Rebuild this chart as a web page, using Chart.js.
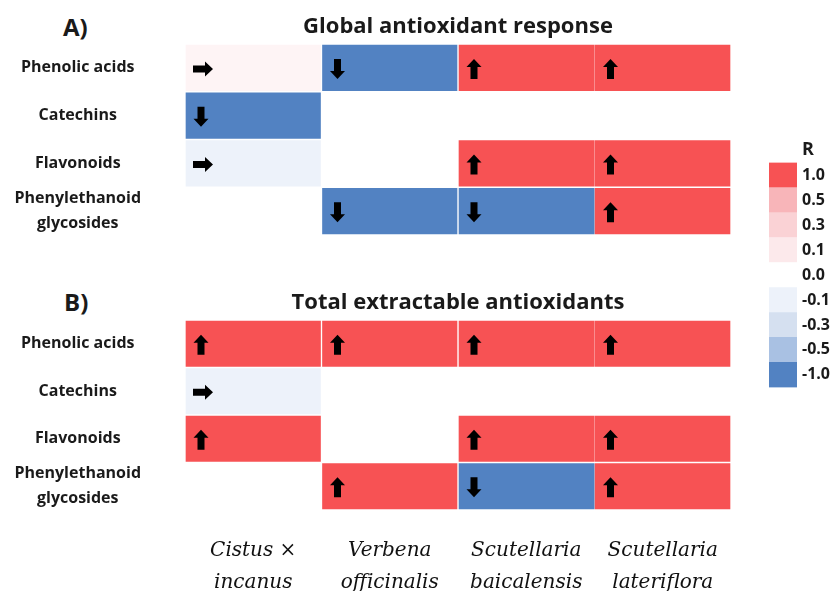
<!DOCTYPE html>
<html>
<head>
<meta charset="utf-8">
<script src="https://cdn.jsdelivr.net/npm/chart.js@4/dist/chart.umd.min.js"></script>
<style>
  html, body { margin: 0; padding: 0; background: #fff; overflow: hidden; }
  body { width: 837px; height: 591px; position: relative; }
  canvas { position: absolute; }
  .tag { position: absolute; font: bold 24px "Open Sans"; color: #1a1a1a; line-height: 32px; }
</style>
</head>
<body>
<div class="tag" style="left:63px; top:11px">A)</div>
<div class="tag" style="left:64px; top:286px">B)</div>
<canvas id="chartA" width="837" height="250" style="left:0; top:0"></canvas>
<canvas id="chartB" width="837" height="315" style="left:0; top:276px"></canvas>
<canvas id="legend" width="97" height="272" style="left:750px; top:130px"></canvas>
<script>
const rows = ['Phenolic acids', 'Catechins', 'Flavonoids', ['Phenylethanoid', 'glycosides']];
const species = [['Cistus ×', 'incanus'], ['Verbena', 'officinalis'], ['Scutellaria', 'baicalensis'], ['Scutellaria', 'lateriflora']];

// R values, one per row (null = not present)
const globalCistus = [0.05, -1, -0.1, null];
const globalVerbena = [-1, null, null, -1];
const globalBaicalensis = [1, null, 1, -1];
const globalLateriflora = [1, null, 1, 1];

const totalCistus = [1, -0.1, 1, null];
const totalVerbena = [1, null, null, 1];
const totalBaicalensis = [1, null, 1, -1];
const totalLateriflora = [1, null, 1, 1];

const scaleValues = [1, 0.5, 0.3, 0.1, 0, -0.1, -0.3, -0.5, -1];
const scaleColors = ['#F75254', '#F8B5B9', '#FAD2D5', '#FCE9EB', '#FFFFFF', '#EDF2FA', '#D5E0F0', '#A9C1E3', '#5282C2'];

const textColor = '#1a1a1a';

function hexToRgb(h) {
  const n = parseInt(h.slice(1), 16);
  return [(n >> 16) & 255, (n >> 8) & 255, n & 255];
}

function colorFor(r) {
  if (r === null) return 'rgba(0,0,0,0)';
  for (let i = 0; i < scaleValues.length - 1; i++) {
    const a = scaleValues[i], b = scaleValues[i + 1];
    if (r <= a && r >= b) {
      const t = (a - r) / (a - b);
      const c1 = hexToRgb(scaleColors[i]), c2 = hexToRgb(scaleColors[i + 1]);
      const c = c1.map((v, k) => Math.round(v + (c2[k] - v) * t));
      return `rgb(${c[0]},${c[1]},${c[2]})`;
    }
  }
  return r > 0 ? scaleColors[0] : scaleColors[scaleColors.length - 1];
}

function drawArrow(ctx, cx, cy, dir) {
  ctx.save();
  ctx.translate(cx, cy);
  ctx.rotate(dir === 'up' ? 0 : dir === 'down' ? Math.PI : Math.PI / 2);
  ctx.beginPath();
  ctx.moveTo(0, -10);
  ctx.lineTo(7.5, -2);
  ctx.lineTo(3.5, -2);
  ctx.lineTo(3.5, 10);
  ctx.lineTo(-3.5, 10);
  ctx.lineTo(-3.5, -2);
  ctx.lineTo(-7.5, -2);
  ctx.closePath();
  ctx.fillStyle = '#000';
  ctx.fill();
  ctx.restore();
}

const arrowPlugin = {
  id: 'arrows',
  afterDatasetsDraw(chart) {
    const ctx = chart.ctx;
    chart.data.datasets.forEach((ds, j) => {
      const meta = chart.getDatasetMeta(j);
      ds.rVals.forEach((r, i) => {
        if (r === null) return;
        const bar = meta.data[i];
        const left = Math.min(bar.base, bar.x);
        const dir = r > 0.3 ? 'up' : r < -0.3 ? 'down' : 'right';
        drawArrow(ctx, left + (dir === 'right' ? 18 : 16), bar.y + 1, dir);
      });
    });
  }
};

function heatmap(id, title, series, showSpecies) {
  const datasets = series.map((vals, j) => ({
    label: species[j].join(' '),
    data: vals.map(v => v === null ? null : [j, j + 1]),
    rVals: vals,
    backgroundColor: vals.map(colorFor),
    borderColor: '#fff',
    // the two Scutellaria columns touch without a separator line
    borderWidth: { top: 1, bottom: 1, left: j === 3 ? 0 : 1, right: j === 2 ? 0 : 1 },
    borderSkipped: false,
    barPercentage: 1,
    categoryPercentage: 1,
    grouped: false
  }));

  const scales = {
    x: {
      type: 'linear', position: 'top', min: 0, max: 4,
      grid: { display: false, drawTicks: false },
      border: { display: false },
      ticks: { display: false },
      title: {
        display: true, text: title, color: textColor,
        font: { family: 'Open Sans', size: 22, weight: 'bold' },
        padding: { top: 14, bottom: 0 }
      },
      afterFit: s => { s.height = 44; }
    },
    y: {
      type: 'category', offset: true,
      grid: { display: true, drawOnChartArea: false, drawTicks: true, tickLength: 44, color: 'rgba(0,0,0,0)' },
      border: { display: false },
      ticks: {
        crossAlign: 'center', padding: 0, color: textColor, autoSkip: false,
        font: { family: 'Open Sans', size: 16, weight: 'bold', lineHeight: 1.56 }
      },
      afterFit: s => { s.width = 185; }
    }
  };
  if (showSpecies) {
    scales.cols = {
      type: 'category', labels: species, position: 'bottom', offset: true,
      grid: { display: false, drawTicks: false },
      border: { display: false },
      ticks: {
        padding: 25, color: '#111', maxRotation: 0, autoSkip: false,
        font: { family: 'DejaVu Serif', size: 20, style: 'italic', lineHeight: 1.6 }
      },
      afterFit: s => { s.height = 81; }
    };
  }

  new Chart(document.getElementById(id), {
    type: 'bar',
    data: { labels: rows, datasets },
    options: {
      indexAxis: 'y',
      responsive: false,
      animation: false,
      layout: { padding: { left: 0, right: 106, top: 0, bottom: showSpecies ? 0 : 15 } },
      plugins: { legend: { display: false }, tooltip: { enabled: false } },
      scales
    },
    plugins: [arrowPlugin]
  });
}

heatmap('chartA', 'Global antioxidant response',
  [globalCistus, globalVerbena, globalBaicalensis, globalLateriflora], false);
heatmap('chartB', 'Total extractable antioxidants',
  [totalCistus, totalVerbena, totalBaicalensis, totalLateriflora], true);

new Chart(document.getElementById('legend'), {
  type: 'bar',
  data: {
    labels: scaleValues.map(v => v.toFixed(1)),
    datasets: [{
      data: scaleValues.map(() => 1),
      backgroundColor: scaleValues.map(colorFor),
      barPercentage: 1,
      categoryPercentage: 1
    }]
  },
  options: {
    indexAxis: 'y',
    responsive: false,
    animation: false,
    layout: { padding: { left: 19, right: 0, top: 0, bottom: 0 } },
    plugins: {
      legend: { display: false },
      tooltip: { enabled: false },
      title: {
        display: true, text: 'R', color: textColor,
        font: { family: 'Open Sans', size: 18, weight: 'bold' },
        padding: { top: 9, bottom: 2 }
      }
    },
    scales: {
      x: { display: false, min: 0, max: 1 },
      y: {
        position: 'right',
        grid: { display: false, drawTicks: false },
        border: { display: false },
        ticks: { padding: 5, color: textColor, font: { family: 'Open Sans', size: 16, weight: 'bold' } },
        afterFit: s => { s.width = 50; }
      }
    }
  }
});
</script>
</body>
</html>
